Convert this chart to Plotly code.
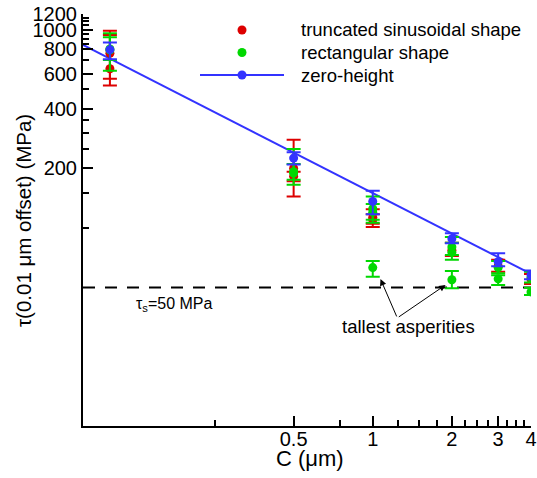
import numpy as np
import plotly.graph_objects as go

# Truncated sinusoidal shape: mean shear stress with upper/lower bounds (MPa)
C_sin = [0.1, 0.1, 0.5, 0.5, 1, 1, 2, 3, 4]
tau_sin = [635, 760, 200, 182, 113, 110, 77, 64, 55]
tau_sin_hi = [988, 940, 278, 192, 124, 117, 84, 69, 58.5]
tau_sin_lo = [523, 565, 144, 172, 101, 105, 72, 60, 52]

# Rectangular shape
C_rect = [0.1, 0.1, 0.5, 0.5, 1, 1, 1, 2, 2, 2, 3, 3, 4, 4]
tau_rect = [790, 800, 189, 192, 125, 120, 63, 75, 80, 54.7, 63, 55.3, 56, 47.5]
tau_rect_hi = [960, 915, 250, 210, 144, 132, 68, 90, 84, 60.6, 68, 57.6, 60, 49.8]
tau_rect_lo = [620, 704, 165, 175, 110, 106, 56.7, 69, 73, 49.6, 59, 51.5, 53, 45.8]

# Zero-height
C_zero = [0.1, 0.5, 1, 2, 3, 4]
tau_zero = [793, 225, 136, 88, 67.5, 57.8]
tau_zero_hi = [862, 241, 154, 94, 74.5, 61]
tau_zero_lo = [710, 209, 117, 83.6, 64, 55]

# Power-law fit of the zero-height results
C_fit = [0.079, 4.0]
tau_fit = [839, 58.5]

# Saturation stress
tau_s = 50

x_ticks = [0.5, 1, 2, 3, 4]
x_minor = [0.25, 0.75, 1.25, 1.5, 1.75, 2.25, 2.5, 2.75, 3.25, 3.5, 3.75]
y_ticks = [200, 400, 600, 800, 1000, 1200]
y_minor = [100, 150, 250, 300, 350, 500, 700, 850, 900, 950, 1050, 1100, 1150]

series_names = ["truncated sinusoidal shape", "rectangular shape", "zero-height"]

RED = "#dd0000"
GREEN = "#00d800"
BLUE = "#3333ff"
FONT = "Liberation Sans, Arial, sans-serif"

W, H = 537, 478
M_L, M_R, M_T, M_B = 83, 6, 14, 52
PW, PH = W - M_L - M_R, H - M_T - M_B


def px(x):
    """pixel column -> paper x"""
    return (x - M_L) / PW


def py(y):
    """pixel row -> paper y"""
    return 1 - (y - M_T) / PH


def err(y, hi, lo, color):
    y = np.asarray(y, float)
    return dict(type="data", symmetric=False,
                array=np.asarray(hi, float) - y,
                arrayminus=y - np.asarray(lo, float),
                color=color, thickness=2, width=7)


fig = go.Figure()

# tau_s reference line
fig.add_trace(go.Scatter(x=C_fit, y=[tau_s, tau_s], mode="lines",
                         line=dict(color="black", width=2, dash="12px,10px"),
                         hoverinfo="skip"))

# fit line
fig.add_trace(go.Scatter(x=C_fit, y=tau_fit, mode="lines",
                         line=dict(color=BLUE, width=2), hoverinfo="skip"))

fig.add_trace(go.Scatter(x=C_sin, y=tau_sin, mode="markers", name=series_names[0],
                         marker=dict(color=RED, size=9),
                         error_y=err(tau_sin, tau_sin_hi, tau_sin_lo, RED)))

fig.add_trace(go.Scatter(x=C_rect, y=tau_rect, mode="markers", name=series_names[1],
                         marker=dict(color=GREEN, size=9),
                         error_y=err(tau_rect, tau_rect_hi, tau_rect_lo, GREEN)))

fig.add_trace(go.Scatter(x=C_zero, y=tau_zero, mode="markers", name=series_names[2],
                         marker=dict(color=BLUE, size=9),
                         error_y=err(tau_zero, tau_zero_hi, tau_zero_lo, BLUE)))

axis_common = dict(
    type="log", showgrid=False, zeroline=False, automargin=False,
    showline=True, linecolor="black", linewidth=2,
    ticks="inside", ticklen=10, tickwidth=2, tickcolor="black",
    ticklabeloverflow="allow",
)

fig.update_xaxes(
    **axis_common,
    range=[np.log10(C_fit[0]), np.log10(C_fit[1])],
    tickmode="array", tickvals=x_ticks, ticktext=[f"{v:g}" for v in x_ticks],
    tickfont=dict(family=FONT, size=20, color="black"),
    ticklabelstandoff=-6,
    minor=dict(tickmode="array", tickvals=x_minor, ticks="inside",
               ticklen=6, tickwidth=1.5, tickcolor="black"),
)

fig.update_yaxes(
    **axis_common,
    range=[np.log10(10), np.log10(1200)],
    tickmode="array", tickvals=y_ticks, ticktext=[str(v) for v in y_ticks],
    tickfont=dict(family=FONT, size=20, color="black"),
    minor=dict(tickmode="array", tickvals=y_minor, ticks="inside",
               ticklen=6, tickwidth=1.5, tickcolor="black"),
)

# ---- text annotations ----
label_pos = (1.368, 31.6)
arrow_tail = (1.24, 35.1)
arrow_tips = [(1.07, 55.2), (1.892, 51.5)]
tau_s_label = (0.176, 40.8)

annotations = [
    # axis titles
    dict(xref="paper", yref="paper", x=px(310), y=py(458), text="C (μm)",
         showarrow=False, xanchor="center", yanchor="middle",
         font=dict(family=FONT, size=22, color="black")),
    dict(xref="paper", yref="paper", x=px(23), y=py(221),
         text="τ(0.01 μm offset) (MPa)", textangle=-90,
         showarrow=False, xanchor="center", yanchor="middle",
         font=dict(family=FONT, size=20.5, color="black")),
    dict(x=np.log10(tau_s_label[0]), y=np.log10(tau_s_label[1]),
         text="τ<sub>s</sub>=50 MPa", showarrow=False,
         font=dict(family=FONT, size=16, color="black")),
    dict(x=np.log10(label_pos[0]), y=np.log10(label_pos[1]),
         text="tallest asperities", showarrow=False,
         font=dict(family=FONT, size=18.5, color="black")),
]
for tx, ty in arrow_tips:
    annotations.append(dict(
        x=np.log10(tx), y=np.log10(ty), xref="x", yref="y",
        ax=np.log10(arrow_tail[0]), ay=np.log10(arrow_tail[1]),
        axref="x", ayref="y", text="", showarrow=True,
        arrowhead=2, arrowsize=1.3, arrowwidth=1, arrowcolor="black"))

# ---- key (drawn in paper space) ----
key_rows = [30, 52.5, 75]
key_colors = [RED, GREEN, BLUE]
shapes = []
for row, color, name in zip(key_rows, key_colors, series_names):
    if name == "zero-height":
        shapes.append(dict(type="line", xref="paper", yref="paper",
                           x0=px(200), x1=px(284), y0=py(row), y1=py(row),
                           line=dict(color=color, width=2)))
    shapes.append(dict(type="circle", xref="paper", yref="paper",
                       xsizemode="pixel", ysizemode="pixel",
                       xanchor=px(242), yanchor=py(row),
                       x0=-4.5, x1=4.5, y0=-4.5, y1=4.5,
                       fillcolor=color, line=dict(width=0)))
    annotations.append(dict(xref="paper", yref="paper", x=px(299), y=py(row),
                            text=name, showarrow=False,
                            xanchor="left", yanchor="middle",
                            font=dict(family=FONT, size=18.5, color="black")))

fig.update_layout(
    width=W, height=H,
    margin=dict(l=M_L, r=M_R, t=M_T, b=M_B, autoexpand=False),
    paper_bgcolor="white", plot_bgcolor="white",
    font=dict(family=FONT, color="black"),
    showlegend=False,
    annotations=annotations,
    shapes=shapes,
)

fig.write_html("out.html")
